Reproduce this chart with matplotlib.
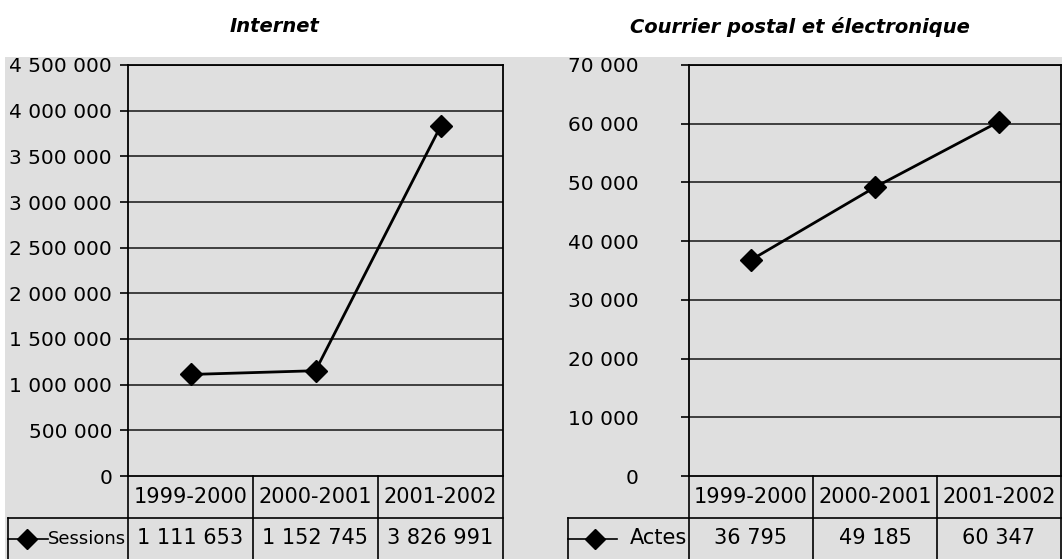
import matplotlib.pyplot as plt
from matplotlib.patches import Rectangle
from matplotlib.ticker import FuncFormatter

# data
periods = ["1999-2000", "2000-2001", "2001-2002"]
sessions = [1111653, 1152745, 3826991]
actes = [36795, 49185, 60347]

title_left = "Internet"
title_right = "Courrier postal et électronique"

BG = "#dfdfdf"
W, H = 1062, 559
FS = 14.5
TFS = 15


def fmt_space(v, pos=None):
    return f"{int(round(v)):,}".replace(",", " ")


def px_box(x0, y0, x1, y1):
    # pixel box (from top-left) -> figure fraction rect
    return [x0 / W, 1 - y1 / H, (x1 - x0) / W, (y1 - y0) / H]


fig = plt.figure(figsize=(W / 100, H / 100), dpi=100)
fig.patch.set_facecolor("white")
fig.add_artist(Rectangle((5 / W, 0), 1 - 5 / W, 1 - 57 / H,
                         transform=fig.transFigure, facecolor=BG,
                         edgecolor="none", zorder=0))


def panel(box, values, ymax, step, label, label_fs, key_left_px, key_line_px,
          key_marker_px, label_pad, plot_left_px, plot_right_px):
    ax = fig.add_axes(px_box(*box))
    ax.set_facecolor(BG)
    x = list(range(len(values)))
    ax.plot(x, values, color="black", lw=2, marker="D", ms=11,
            mfc="black", mec="black", zorder=3, clip_on=False)
    ax.set_xlim(-0.5, len(values) - 0.5)
    ax.set_ylim(0, ymax)
    ticks = list(range(0, ymax + 1, step))
    ax.set_yticks(ticks)
    ax.yaxis.set_major_formatter(FuncFormatter(fmt_space))
    ax.set_xticks([])
    ax.tick_params(axis="y", length=5.5, width=1.2, color="black",
                   labelsize=FS, pad=label_pad)
    for t in ticks[1:]:
        ax.axhline(t, color="#333333", lw=1.3, zorder=1)
    for s in ax.spines.values():
        s.set_color("black")
        s.set_linewidth(1.3)

    # data table under the axis
    tr = ax.get_xaxis_transform()
    hpx = box[3] - box[1]
    r1 = -42 / hpx
    r2 = -83 / hpx
    per_px = len(values) / (plot_right_px - plot_left_px)

    def xd(px):
        return -0.5 + (px - plot_left_px) * per_px

    kw = dict(transform=tr, color="black", lw=1.2, clip_on=False)
    for i in range(len(values) + 1):
        ax.plot([i - 0.5, i - 0.5], [0, r2], **kw)
    ax.plot([xd(key_left_px), len(values) - 0.5], [r1, r1], **kw)
    ax.plot([xd(key_left_px)] * 2, [r1, r2], **kw)
    for i, (p, v) in enumerate(zip(periods, values)):
        ax.text(i, r1 / 2, p, transform=tr, ha="center", va="center",
                fontsize=TFS, clip_on=False)
        ax.text(i, (r1 + r2) / 2, fmt_space(v), transform=tr,
                ha="center", va="center", fontsize=TFS, clip_on=False)
    ym = (r1 + r2) / 2
    ax.plot([xd(key_left_px), xd(key_line_px)], [ym, ym], transform=tr,
            color="black", lw=1.2, clip_on=False)
    ax.plot([xd(key_marker_px)], [ym], transform=tr, marker="D", ms=10,
            color="black", clip_on=False)
    ax.text(-0.515, ym, label, transform=tr, ha="right", va="center",
            fontsize=label_fs, clip_on=False)
    return ax


panel((128, 65, 503, 476), sessions, 4500000, 500000, "Sessions", 13,
      8, 48, 27, 6, 128, 503)
panel((689, 65, 1061, 476), actes, 70000, 10000, "Actes", TFS,
      568, 617, 595, 31, 689, 1061)

style = dict(fontsize=14, fontweight="bold", fontstyle="italic",
             ha="center", va="center")
fig.text(275 / W, 1 - 27 / H, title_left, **style)
fig.text(800 / W, 1 - 27 / H, title_right, **style)

fig.savefig("out.png", dpi=100)
